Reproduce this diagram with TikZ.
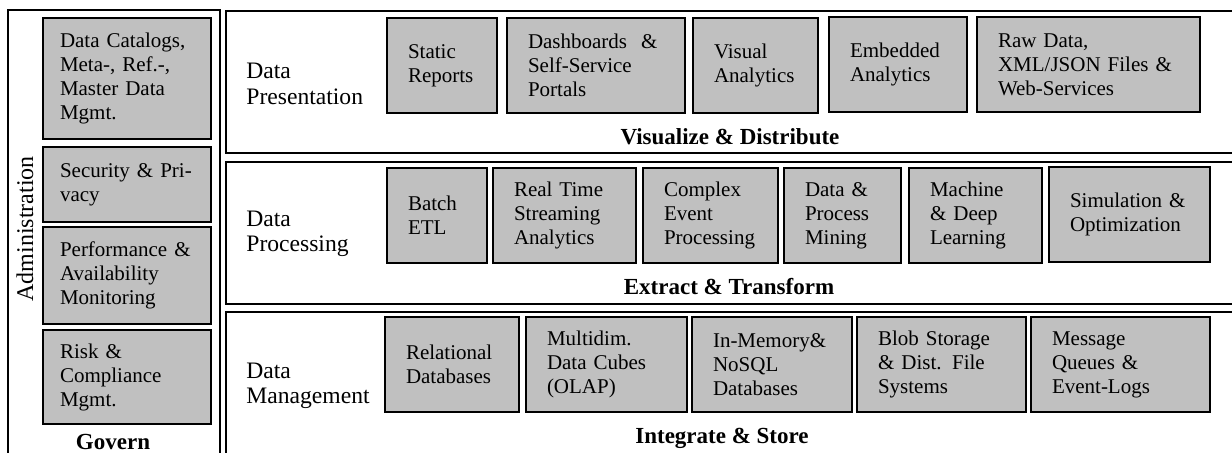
\documentclass[tikz,border=0pt]{standalone}
\usepackage{fontspec}
\setmainfont{Liberation Serif}
\definecolor{boxgray}{RGB}{192,192,192}
\tikzset{
  gbox/.style={draw=black, line width=1.4pt, fill=boxgray, inner xsep=0pt, inner ysep=0pt,
    align=left, font=\fontsize{10.5}{12}\selectfont},
  panel/.style={draw=black, line width=1.3pt},
  lab/.style={align=left, inner sep=0pt, font=\fontsize{11.8}{12.8}\selectfont},
  blab/.style={inner sep=0pt, font=\fontsize{11.5}{13}\selectfont\bfseries}
}
\newcommand\gboxat[7]{%
  \pgfmathsetmacro\gw{(#4-#2)*0.5}%
  \pgfmathsetmacro\gh{(#5-#3)*0.5}%
  \pgfmathsetmacro\tw{(#4-#2-2*#6)*0.5}%
  \node[gbox, minimum width=\gw pt, minimum height=\gh pt, text width=\tw pt] (#1) at ({(#2+#4)/2},{(#3+#5)/2}) {#7};%
}
\begin{document}
\begin{tikzpicture}[x=0.5pt,y=-0.5pt]
\useasboundingbox (0,0) rectangle (1232,453);
\clip (0,0) rectangle (1232,453);
% frames
\draw[panel] (8,10) rectangle (220,480);
\draw[panel] (226,11) rectangle (1240,153);
\draw[panel] (226,162) rectangle (1240,304);
\draw[panel] (226,312) rectangle (1240,480);
% left column
\node[rotate=90, inner sep=0pt, font=\fontsize{12}{13}\selectfont] (adm) at (25,229) {Administration};
\gboxat{g1}{43}{18}{211}{139}{17}{Data Catalogs,\\Meta-, Ref.-,\\Master Data\\Mgmt.}
\gboxat{g2}{43}{147}{211}{222}{17}{Security \& Pri-\\vacy}
\gboxat{g3}{43}{227}{211}{324}{17}{Performance \&\\Availability\\Monitoring}
\gboxat{g4}{43}{330}{211}{424}{17}{Risk \&\\Compliance\\Mgmt.}
\node[blab] (gov) at (113,442) {Govern};
% presentation
\node[lab, anchor=west] (lp) at (246,84) {Data\\Presentation};
\gboxat{p1}{387}{18}{497}{113}{21}{Static\\Reports}
\gboxat{p2}{507}{18}{685}{113}{21}{Dashboards\ \ \&\\Self-Service\\Portals}
\gboxat{p3}{693}{18}{818}{113}{21}{Visual\\Analytics}
\gboxat{p4}{829}{17}{967}{112}{21}{Embedded\\Analytics}
\gboxat{p5}{977}{17}{1200}{112}{21}{Raw Data,\\XML/JSON Files \&\\Web-Services}
\node[blab] (vd) at (730,137) {Visualize \& Distribute};
% processing
\node[lab, anchor=west] (lq) at (246,234) {Data\\Processing};
\gboxat{q1}{387}{168}{487}{263}{21}{Batch\\ETL}
\gboxat{q2}{493}{168}{636}{263}{21}{Real Time\\Streaming\\Analytics}
\gboxat{q3}{643}{168}{778}{263}{21}{Complex\\Event\\Processing}
\gboxat{q4}{784}{168}{901}{263}{21}{Data \&\\Process\\Mining}
\gboxat{q5}{909}{168}{1042}{263}{21}{Machine\\\& Deep\\Learning}
\gboxat{q6}{1049}{167}{1210}{262}{21}{Simulation \&\\Optimization}
\node[blab] (et) at (729,287) {Extract \& Transform};
% management
\node[lab, anchor=west] (lm) at (246,386) {Data\\Management};
\gboxat{m1}{385}{317}{519}{412}{21}{Relational\\Databases}
\gboxat{m2}{526}{317}{687}{412}{21}{Multidim.\\Data Cubes\\(OLAP)}
\gboxat{m3}{692}{317}{852}{412}{21}{In-Memory\&\\NoSQL\\Databases}
\gboxat{m4}{857}{317}{1026}{412}{21}{Blob Storage\\\& Dist. File\\Systems}
\gboxat{m5}{1031}{317}{1210}{412}{21}{Message\\Queues \&\\Event-Logs}
\node[blab] (is) at (722,438) {Integrate \& Store};
\end{tikzpicture}
\end{document}
